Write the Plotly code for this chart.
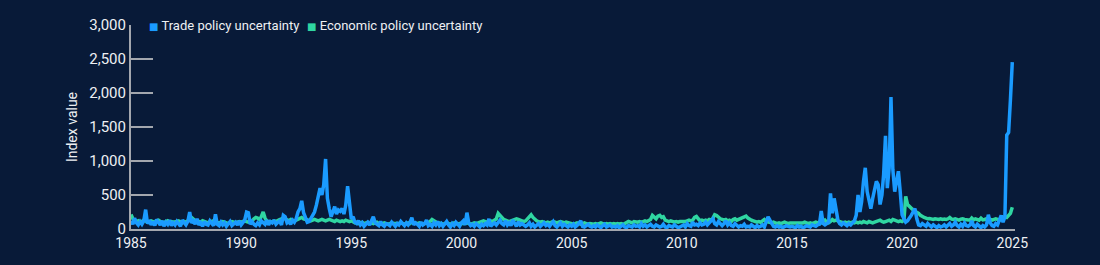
import pandas as pd
import plotly.graph_objects as go

# Monthly index values, Jan 1985 .. Jan 2025
tpu_by_year = {
    1985: [120, 70, 160, 90, 60, 110, 70, 120, 285, 80, 130, 60],
    1986: [110, 50, 140, 90, 60, 120, 40, 100, 70, 130, 50, 90],
    1987: [60, 110, 70, 40, 130, 90, 60, 110, 250, 90, 120, 70],
    1988: [150, 60, 90, 40, 110, 70, 60, 120, 80, 50, 215, 70],
    1989: [50, 100, 60, 90, 40, 80, 110, 50, 70, 100, 60, 120],
    1990: [60, 100, 130, 250, 240, 70, 110, 70, 50, 90, 60, 120],
    1991: [100, 70, 130, 60, 110, 90, 130, 70, 100, 120, 60, 200],
    1992: [180, 90, 110, 70, 130, 100, 150, 250, 300, 415, 240, 150],
    1993: [100, 110, 150, 200, 250, 350, 450, 600, 500, 650, 1030, 450],
    1994: [300, 180, 250, 330, 220, 280, 260, 300, 220, 350, 630, 430],
    1995: [150, 180, 100, 80, 120, 60, 90, 40, 70, 100, 60, 110],
    1996: [180, 90, 70, 50, 110, 60, 40, 80, 70, 50, 100, 60],
    1997: [40, 80, 60, 110, 70, 50, 90, 60, 100, 165, 60, 90],
    1998: [70, 40, 100, 60, 80, 130, 50, 70, 40, 90, 60, 110],
    1999: [50, 80, 40, 70, 110, 60, 30, 80, 50, 100, 60, 40],
    2000: [90, 120, 60, 240, 90, 50, 70, 40, 80, 60, 30, 70],
    2001: [50, 80, 60, 150, 40, 70, 90, 60, 100, 130, 80, 60],
    2002: [120, 60, 90, 50, 130, 70, 40, 110, 60, 80, 50, 40],
    2003: [60, 90, 40, 70, 30, 50, 80, 40, 60, 90, 50, 70],
    2004: [40, 80, 110, 50, 30, 60, 90, 40, 70, 50, 30, 60],
    2005: [40, 70, 30, 50, 80, 120, 40, 30, 50, 70, 40, 30],
    2006: [50, 30, 60, 40, 20, 50, 70, 30, 40, 60, 30, 40],
    2007: [30, 50, 20, 40, 60, 30, 20, 50, 40, 30, 60, 40],
    2008: [50, 30, 80, 40, 60, 30, 50, 70, 40, 30, 60, 50],
    2009: [30, 40, 70, 30, 20, 50, 40, 30, 60, 40, 20, 30],
    2010: [40, 60, 30, 80, 50, 40, 100, 60, 70, 50, 90, 60],
    2011: [70, 100, 60, 90, 120, 150, 80, 60, 110, 70, 50, 80],
    2012: [120, 60, 90, 50, 40, 80, 60, 30, 50, 40, 70, 30],
    2013: [40, 30, 60, 40, 20, 50, 30, 40, 60, 30, 120, 180],
    2014: [130, 70, 40, 30, 50, 30, 40, 20, 30, 50, 40, 30],
    2015: [40, 30, 20, 50, 30, 40, 20, 30, 50, 40, 30, 60],
    2016: [50, 40, 60, 70, 265, 80, 60, 80, 100, 525, 230, 450],
    2017: [300, 130, 80, 60, 90, 70, 50, 80, 60, 90, 120, 200],
    2018: [500, 250, 400, 700, 900, 550, 400, 300, 450, 550, 700, 650],
    2019: [360, 500, 800, 1370, 600, 900, 1940, 875, 550, 700, 850, 550],
    2020: [210, 150, 100, 120, 150, 200, 250, 300, 150, 60, 50, 80],
    2021: [60, 40, 80, 50, 30, 60, 40, 20, 50, 30, 40, 60],
    2022: [30, 50, 80, 40, 60, 100, 50, 30, 70, 40, 90, 50],
    2023: [40, 60, 120, 50, 30, 70, 40, 20, 50, 30, 60, 210],
    2024: [90, 50, 40, 80, 60, 120, 200, 100, 180, 1380, 1420, 1900],
    2025: [2455],
}

epu_by_year = {
    1985: [215, 150, 130, 110, 120, 100, 110, 130, 120, 100, 110, 120],
    1986: [110, 100, 120, 130, 110, 100, 90, 110, 120, 100, 110, 100],
    1987: [100, 110, 120, 100, 90, 110, 100, 120, 130, 170, 150, 120],
    1988: [120, 110, 100, 120, 110, 100, 90, 100, 110, 120, 100, 90],
    1989: [90, 100, 110, 100, 90, 80, 100, 110, 100, 90, 100, 110],
    1990: [100, 110, 120, 110, 100, 110, 120, 150, 170, 160, 140, 180],
    1991: [250, 160, 120, 110, 100, 110, 120, 110, 130, 140, 150, 160],
    1992: [150, 130, 120, 140, 130, 120, 130, 140, 150, 170, 150, 140],
    1993: [140, 130, 120, 130, 140, 130, 120, 130, 140, 130, 120, 130],
    1994: [140, 130, 120, 110, 130, 120, 110, 120, 110, 130, 120, 110],
    1995: [120, 100, 90, 100, 80, 90, 100, 80, 90, 100, 80, 90],
    1996: [80, 90, 100, 80, 70, 80, 90, 80, 70, 80, 90, 80],
    1997: [80, 70, 80, 90, 80, 70, 80, 90, 80, 100, 90, 80],
    1998: [80, 90, 80, 70, 80, 90, 100, 110, 140, 120, 100, 90],
    1999: [90, 80, 70, 80, 90, 80, 70, 80, 90, 80, 70, 80],
    2000: [80, 70, 80, 90, 80, 70, 80, 90, 80, 90, 100, 110],
    2001: [120, 110, 100, 110, 120, 110, 130, 150, 230, 200, 160, 140],
    2002: [130, 120, 110, 120, 130, 140, 150, 140, 130, 120, 110, 120],
    2003: [150, 180, 210, 170, 140, 120, 110, 100, 110, 100, 90, 100],
    2004: [90, 100, 110, 100, 90, 100, 110, 100, 90, 100, 90, 80],
    2005: [80, 70, 80, 90, 80, 70, 80, 90, 80, 70, 80, 70],
    2006: [70, 80, 70, 80, 90, 80, 70, 80, 70, 80, 70, 80],
    2007: [70, 80, 70, 80, 70, 80, 90, 110, 100, 90, 110, 100],
    2008: [100, 110, 100, 110, 120, 110, 120, 140, 200, 170, 150, 190],
    2009: [200, 170, 180, 130, 120, 110, 120, 110, 100, 110, 100, 110],
    2010: [110, 100, 110, 120, 130, 120, 130, 170, 185, 150, 120, 130],
    2011: [120, 130, 120, 140, 130, 160, 210, 200, 170, 150, 140, 130],
    2012: [140, 120, 130, 110, 140, 150, 130, 140, 150, 170, 180, 190],
    2013: [160, 140, 130, 120, 110, 100, 110, 100, 120, 140, 110, 100],
    2014: [100, 90, 100, 90, 80, 90, 80, 90, 100, 90, 80, 90],
    2015: [90, 80, 90, 80, 90, 80, 90, 100, 90, 80, 90, 80],
    2016: [90, 100, 90, 100, 90, 110, 130, 100, 90, 110, 140, 120],
    2017: [130, 120, 110, 100, 90, 100, 90, 100, 90, 100, 90, 100],
    2018: [90, 100, 90, 110, 100, 90, 110, 100, 90, 100, 110, 120],
    2019: [130, 110, 100, 110, 120, 130, 110, 140, 130, 120, 110, 120],
    2020: [110, 130, 480, 360, 330, 300, 280, 260, 250, 230, 200, 180],
    2021: [170, 160, 150, 155, 150, 140, 150, 145, 140, 150, 140, 145],
    2022: [140, 150, 170, 145, 140, 150, 140, 130, 145, 150, 140, 135],
    2023: [140, 130, 160, 135, 150, 140, 130, 160, 135, 140, 150, 130],
    2024: [140, 130, 140, 150, 140, 130, 150, 160, 180, 170, 200, 230],
    2025: [320],
}

series_names = ["Trade policy uncertainty", "Economic policy uncertainty"]

tpu = [v for y in sorted(tpu_by_year) for v in tpu_by_year[y]]
epu = [v for y in sorted(epu_by_year) for v in epu_by_year[y]]
dates = pd.date_range("1985-01-01", periods=len(tpu), freq="MS")

tick_years = [str(y) for y in range(1985, 2026, 5)]

BG = "#081a38"
BLUE = "#1a9bff"
GREEN = "#2fd6a2"
AXIS = "#a3a7ae"
TEXT = "#eef0f3"
FONT = "Roboto"

fig = go.Figure()
fig.add_trace(go.Scatter(x=dates, y=epu, mode="lines", line=dict(color=GREEN, width=3.5),
                         showlegend=False, name=series_names[1]))
fig.add_trace(go.Scatter(x=dates, y=tpu, mode="lines", line=dict(color=BLUE, width=3.5),
                         showlegend=False, name=series_names[0]))

# legend (square swatch + label) as text entries along the top of the plot
legend_x = [0.0185, 0.1965]
for name, color, lx in zip(series_names, [BLUE, GREEN], legend_x):
    fig.add_annotation(
        xref="paper", yref="paper", x=lx, y=1.0, xanchor="left", yanchor="middle",
        showarrow=False,
        text=f"<span style='color:{color};font-family:DejaVu Sans;font-size:10px'>■</span> {name}",
        font=dict(family=FONT, size=13, color=TEXT),
    )

fig.update_layout(
    width=1100, height=265,
    margin=dict(l=131, r=85, t=25, b=36),
    paper_bgcolor=BG, plot_bgcolor=BG,
    font=dict(family=FONT, color=TEXT, size=14),
    showlegend=False,
    xaxis=dict(
        type="date",
        range=["1985-01-01", "2025-02-15"],
        tickvals=[f"{y}-01-01" for y in tick_years],
        ticktext=tick_years,
        showgrid=False, zeroline=False,
        showline=True, linecolor=AXIS, linewidth=2,
        ticks="", tickfont=dict(size=14, color=TEXT),
    ),
    yaxis=dict(
        range=[0, 3000],
        tickvals=[0, 500, 1000, 1500, 2000, 2500, 3000],
        tickformat=",",
        showgrid=False, zeroline=False,
        showline=True, linecolor=AXIS, linewidth=2,
        ticks="inside", ticklen=22, tickwidth=2, tickcolor=AXIS,
        tickfont=dict(size=15, color=TEXT),
        title=dict(text="Index value", font=dict(size=14, color=TEXT), standoff=8),
    ),
)

fig.write_html("out.html")
